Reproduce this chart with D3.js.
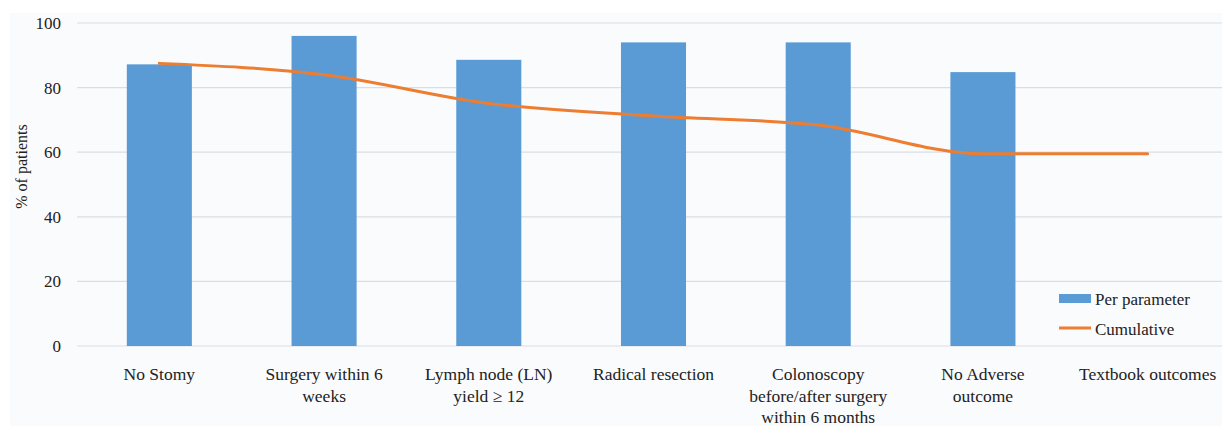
<!DOCTYPE html>
<html>
<head>
<meta charset="utf-8">
<script src="https://cdn.jsdelivr.net/npm/d3@7"></script>
<style>
  body { margin: 0; background: #fff; }
</style>
</head>
<body>
<svg width="1222" height="426"></svg>
<script>
// data
const categories = [
  ["No Stomy"],
  ["Surgery within 6", "weeks"],
  ["Lymph node (LN)", "yield \u2265 12"],
  ["Radical resection"],
  ["Colonoscopy", "before/after surgery", "within 6 months"],
  ["No Adverse", "outcome"],
  ["Textbook outcomes"]
];
const perParameter = [87.2, 96.0, 88.6, 94.0, 94.0, 84.8, null];
const cumulative = [87.5, 84.0, 75.1, 71.2, 68.4, 59.5, 59.5];
const yTicks = [0, 20, 40, 60, 80, 100];

const serif = '"Liberation Serif", "Times New Roman", Times, "Noto Serif", "DejaVu Serif", serif';

const svg = d3.select('svg');
const width = +svg.attr('width');
const height = +svg.attr('height');

// chart area background
svg.append('rect')
  .attr('x', 10).attr('y', 13)
  .attr('width', width - 10).attr('height', height - 13)
  .attr('fill', '#fafbfd');

const margin = {top: 23, left: 77};
const plotRight = 1230;
const plotBottom = 346;

const keys = categories.map((c, i) => i);

const xScale = d3.scaleBand()
  .domain(keys)
  .range([margin.left, plotRight])
  .paddingInner(0.605)
  .paddingOuter(0.3025);

const yScale = d3.scaleLinear()
  .domain([0, 100])
  .range([plotBottom, margin.top]);

// gridlines
svg.append('g')
  .selectAll('line').data(yTicks)
  .enter().append('line')
    .attr('x1', margin.left).attr('x2', width)
    .attr('y1', d => yScale(d)).attr('y2', d => yScale(d))
    .attr('stroke', '#d9dee6')
    .attr('stroke-width', 1.2);

// y tick labels
svg.append('g')
  .selectAll('text').data(yTicks)
  .enter().append('text')
    .attr('x', 61)
    .attr('y', d => yScale(d))
    .attr('dy', '0.35em')
    .attr('text-anchor', 'end')
    .style('font-family', serif)
    .attr('font-size', 17)
    .attr('fill', '#222')
    .text(d => d);

// y axis title
svg.append('text')
  .attr('transform', `translate(21,${(yScale(0) + yScale(100)) / 2 - 18}) rotate(-90)`)
  .attr('dy', '0.35em')
  .attr('text-anchor', 'middle')
  .style('font-family', serif)
  .attr('font-size', 16)
  .attr('fill', '#222')
  .text('% of patients');

// bars
svg.append('g')
  .selectAll('rect').data(keys.filter(i => perParameter[i] != null))
  .enter().append('rect')
    .attr('x', i => xScale(i))
    .attr('y', i => yScale(perParameter[i]))
    .attr('width', xScale.bandwidth())
    .attr('height', i => yScale(0) - yScale(perParameter[i]))
    .attr('fill', '#5b9bd5');

// cumulative line
const line = d3.line()
  .x(i => xScale(i) + xScale.bandwidth() / 2)
  .y(i => yScale(cumulative[i]))
  .curve(d3.curveMonotoneX);

svg.append('path')
  .datum(keys)
  .attr('d', line)
  .attr('fill', 'none')
  .attr('stroke', '#ed7d31')
  .attr('stroke-width', 3)
  .attr('stroke-linecap', 'round');

// category labels
const labels = svg.append('g')
  .selectAll('text').data(keys)
  .enter().append('text')
    .attr('x', i => xScale(i) + xScale.bandwidth() / 2)
    .attr('y', 380)
    .attr('text-anchor', 'middle')
    .style('font-family', serif)
    .attr('font-size', 17.5)
    .attr('fill', '#222');

labels.selectAll('tspan')
  .data(i => categories[i])
  .enter().append('tspan')
    .attr('x', function() { return d3.select(this.parentNode).attr('x'); })
    .attr('dy', (d, j) => j === 0 ? 0 : 21.5)
    .text(d => d);

// legend
const legend = svg.append('g');
legend.append('rect')
  .attr('x', 1059).attr('y', 294)
  .attr('width', 32).attr('height', 9)
  .attr('fill', '#5b9bd5');
legend.append('text')
  .attr('x', 1095).attr('y', 299)
  .attr('dy', '0.35em')
  .style('font-family', serif)
  .attr('font-size', 17)
  .attr('fill', '#222')
  .text('Per parameter');
legend.append('line')
  .attr('x1', 1059).attr('x2', 1091)
  .attr('y1', 328).attr('y2', 328)
  .attr('stroke', '#ed7d31')
  .attr('stroke-width', 3);
legend.append('text')
  .attr('x', 1095).attr('y', 329)
  .attr('dy', '0.35em')
  .style('font-family', serif)
  .attr('font-size', 17)
  .attr('fill', '#222')
  .text('Cumulative');
</script>
</body>
</html>
